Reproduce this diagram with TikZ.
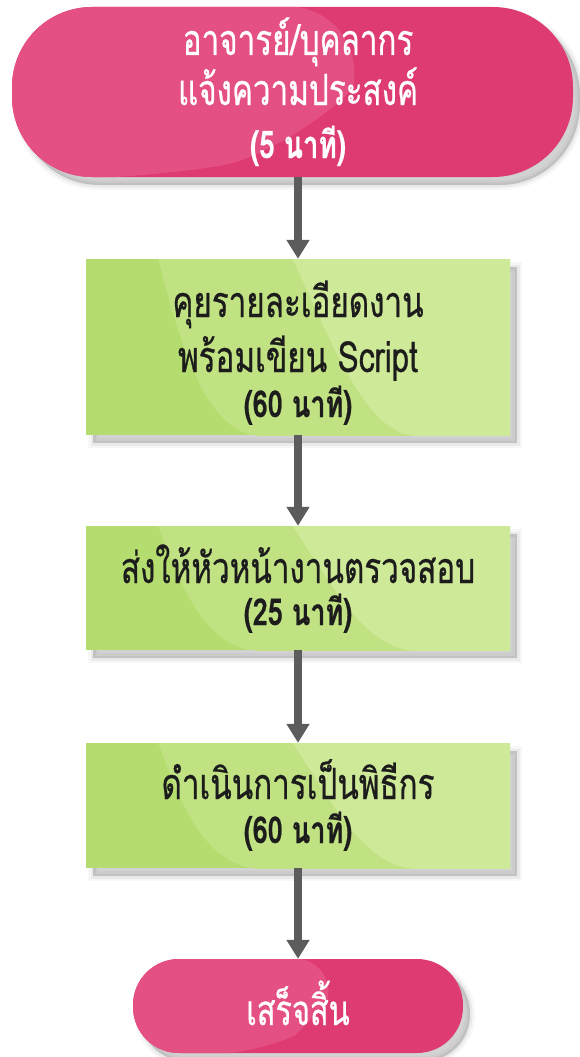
\documentclass[tikz,border=0pt]{standalone}
\usepackage{fontspec}
\newfontfamily\thai[Script=Thai,FakeStretch=0.73,FakeBold=0.6]{Loma}
\usetikzlibrary{arrows.meta,shadows,calc}
\definecolor{pinkD}{HTML}{DD3B71}
\definecolor{pinkL}{HTML}{E44F84}
\definecolor{grnD}{HTML}{B4DC6E}
\definecolor{grnM}{HTML}{C1E283}
\definecolor{grnL}{HTML}{CEE997}
\definecolor{arr}{HTML}{5C5C5C}
\definecolor{ink}{HTML}{1C1C1C}
\tikzset{
  x=1pt, y=1pt,
  soft/.style={
    general shadow={shadow xshift=7pt, shadow yshift=-8pt, fill=black, draw=black, line width=10pt, opacity=0.03},
    general shadow={shadow xshift=7pt, shadow yshift=-8pt, fill=black, draw=black, line width=5pt, opacity=0.05},
    general shadow={shadow xshift=7pt, shadow yshift=-8pt, fill=black, opacity=0.10}},
  term/.style={rectangle, fill=pinkD, inner sep=0pt, soft},
  gbox/.style={rectangle, fill=grnD, inner sep=0pt, soft, minimum width=424pt,
    path picture={
      \path (path picture bounding box.north west) coordinate (nw)
            (path picture bounding box.south west) coordinate (sw);
      \fill[grnM] ($(nw)+(72,1)$) .. controls ($(nw)!0.5!(sw)+(95,0)$) and ($(sw)+(120,0)$) .. ($(sw)+(176,-1)$)
         -- ($(sw)+(430,-1)$) -- ($(nw)+(430,1)$) -- cycle;
      \fill[grnL] ($(nw)+(206,1)$) .. controls ($(nw)!0.5!(sw)+(248,0)$) and ($(sw)+(280,0)$) .. ($(sw)+(331,-1)$)
         -- ($(sw)+(430,-1)$) -- ($(nw)+(430,1)$) -- cycle;
    }},
  wtxt/.style={anchor=base, inner sep=0pt, text=white, font=\thai\fontsize{43}{50}\selectfont},
  wbold/.style={anchor=base, inner sep=0pt, text=white, font=\thai\bfseries\fontsize{38}{44}\selectfont},
  btxt/.style={anchor=base, inner sep=0pt, text=ink, font=\thai\fontsize{43}{50}\selectfont},
  bbold/.style={anchor=base, inner sep=0pt, text=ink, font=\thai\bfseries\fontsize{37}{44}\selectfont},
  link/.style={arr, line width=7.5pt, -{Triangle[width=22pt,length=19pt]}},
}
\begin{document}
\begin{tikzpicture}
\useasboundingbox (0,0) rectangle (579,-1057);
% shapes
\node[term, minimum width=561pt, minimum height=170pt, rounded corners=80pt,
  path picture={
    \path (path picture bounding box.north west) coordinate (tnw);
    \fill[pinkL] ($(tnw)+(-1,1)$) -- ($(tnw)+(353,1)$) .. controls ($(tnw)+(340,-90)$) and ($(tnw)+(260,-150)$) .. ($(tnw)+(130,-172)$) -- ($(tnw)+(-1,-172)$) -- cycle;
  }] (top) at (292.5,-92) {};
\node[gbox, minimum height=176pt] (b1) at (298,-347) {};
\node[gbox, minimum height=124pt] (b2) at (298,-588) {};
\node[gbox, minimum height=125pt] (b3) at (298,-805.5) {};
\node[term, minimum width=330pt, minimum height=94pt, rounded corners=46pt,
  path picture={
    \path (path picture bounding box.north west) coordinate (enw);
    \fill[pinkL] ($(enw)+(-1,1)$) -- ($(enw)+(205,1)$) .. controls ($(enw)+(195,-40)$) and ($(enw)+(165,-75)$) .. ($(enw)+(120,-96)$) -- ($(enw)+(-1,-96)$) -- cycle;
  }] (end) at (298,-1006) {};
% texts
\node[wtxt] (top1) at (298,-55) {อาจารย์/บุคลากร};
\node[wtxt] (top2) at (298,-105) {แจ้งความประสงค์};
\node[wbold] (top3) at (298,-158) {(5 นาที)};
\node[btxt] (b1a) at (298,-317) {คุยรายละเอียดงาน};
\node[btxt] (b1b) at (298,-372) {พร้อมเขียน Script};
\node[bbold] (b1c) at (298,-417) {(60 นาที)};
\node[btxt] (b2a) at (298,-583) {ส่งให้หัวหน้างานตรวจสอบ};
\node[bbold] (b2b) at (298,-625) {(25 นาที)};
\node[btxt] (b3a) at (298,-799) {ดำเนินการเป็นพิธีกร};
\node[bbold] (b3b) at (298,-843) {(60 นาที)};
\node[wtxt, font=\thai\fontsize{42}{50}\selectfont] (end1) at (298,-1025) {เสร็จสิ้น};
% connectors
\draw[link] (b1.north |- top.south) -- (b1.north);
\draw[link] (b1.south) -- (b2.north);
\draw[link] (b2.south) -- (b3.north);
\draw[link] (b3.south) -- (end.north);
\end{tikzpicture}
\end{document}
